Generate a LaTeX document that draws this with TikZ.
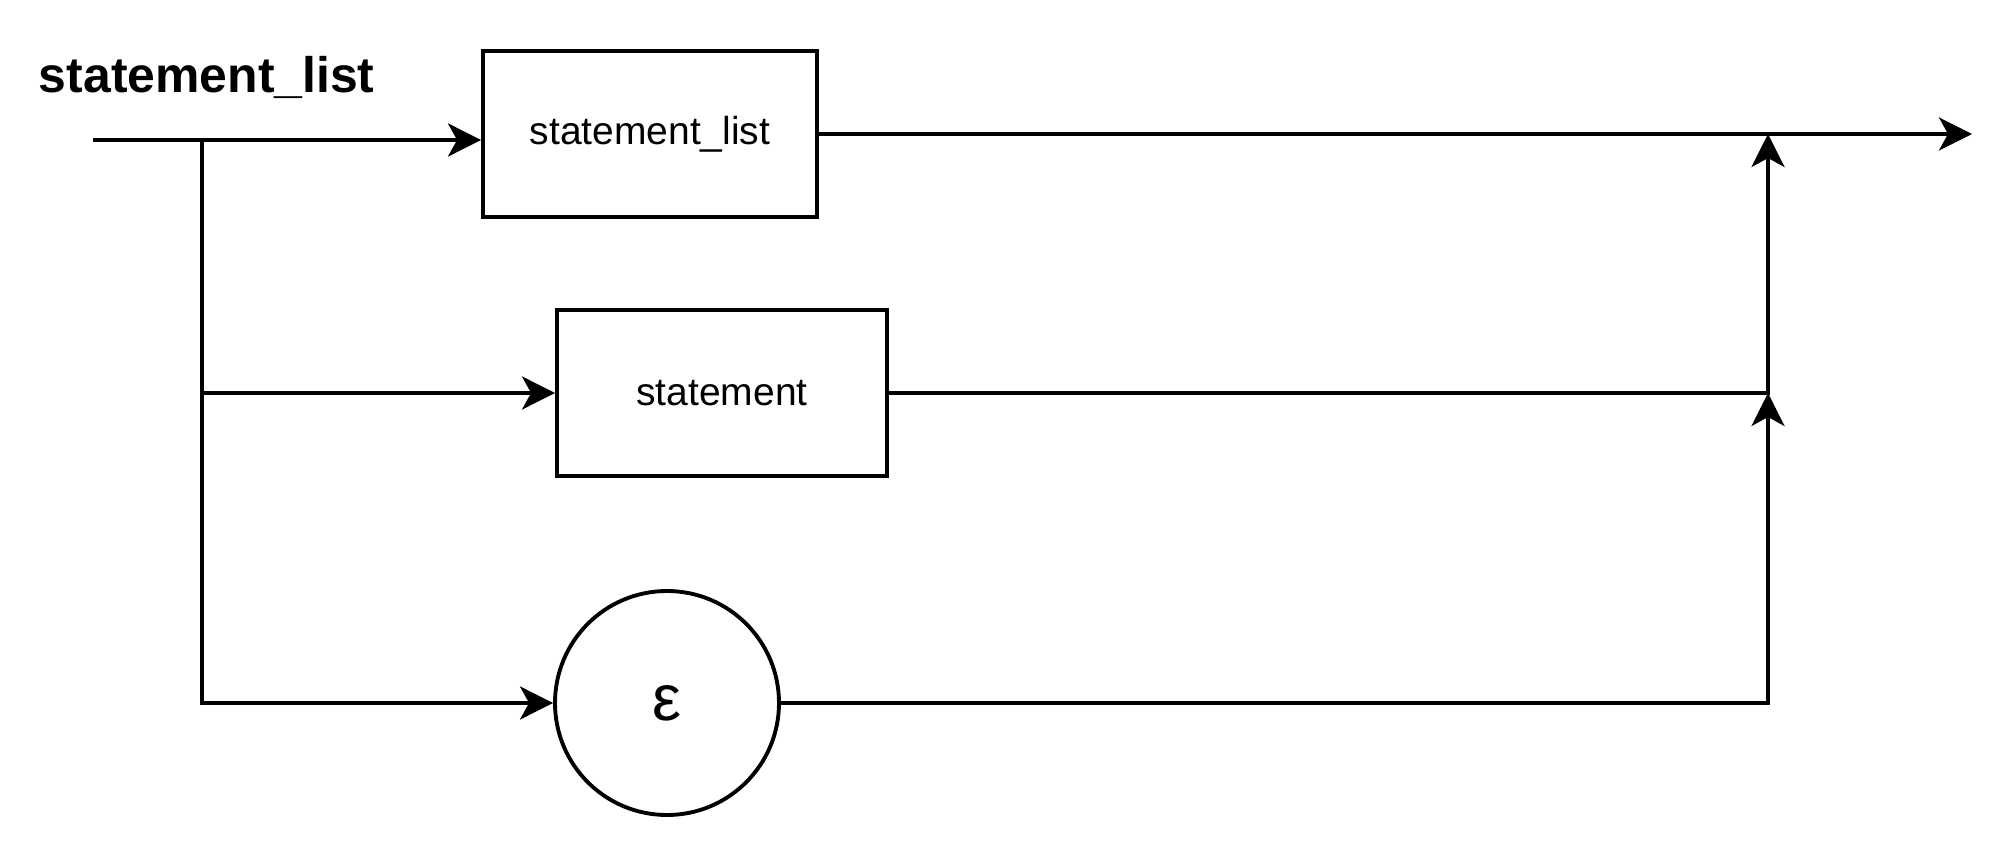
\documentclass[tikz,border=0pt]{standalone}
\usepackage{fontspec}
\setmainfont{Liberation Sans}
\usetikzlibrary{arrows.meta}

\begin{document}
\begin{tikzpicture}[
    line width=1.1pt,
    rule/.style={draw, line width=1.1pt, minimum width=3.34cm, minimum height=1.66cm, font=\fontsize{11.1}{13}\selectfont},
    empty/.style={draw, circle, line width=1.1pt, minimum size=2.24cm, inner sep=0pt, font=\fontsize{18.5}{22}\selectfont},
    flow/.style={-{Stealth[length=0.33cm, width=0.33cm, inset=0.09cm]}}
]
    \useasboundingbox (0,0) rectangle (20,8.51);

    % Title
    \node[anchor=base west, inner sep=0pt, font=\bfseries\fontsize{14.2}{17}\selectfont] (title) at (0.37,7.58) {statement\_list};

    % Alternatives
    \node[rule] (list) at (6.50,7.17) {statement\_list};
    \node[rule, minimum width=3.30cm] (stmt) at (7.22,4.58) {statement};
    \node[empty] (eps) at (6.67,1.48) {ε};

    % entry, split, join
    \coordinate (in) at (0.93,7.11);
    \coordinate (split) at (2.02,7.11);
    \coordinate (join) at (17.68,4.58);
    \coordinate (out) at (19.72,7.17);

    \draw[flow] (in) -- (list.west |- in);
    \draw[flow] (split) |- (stmt.west);
    \draw[flow] (split) |- (eps.west);

    \draw[flow] (list.east) -- (out);
    \draw[flow] (stmt.east) -- (join) -- (join |- list.east);
    \draw[flow] (eps.east) -| (join);
\end{tikzpicture}
\end{document}
